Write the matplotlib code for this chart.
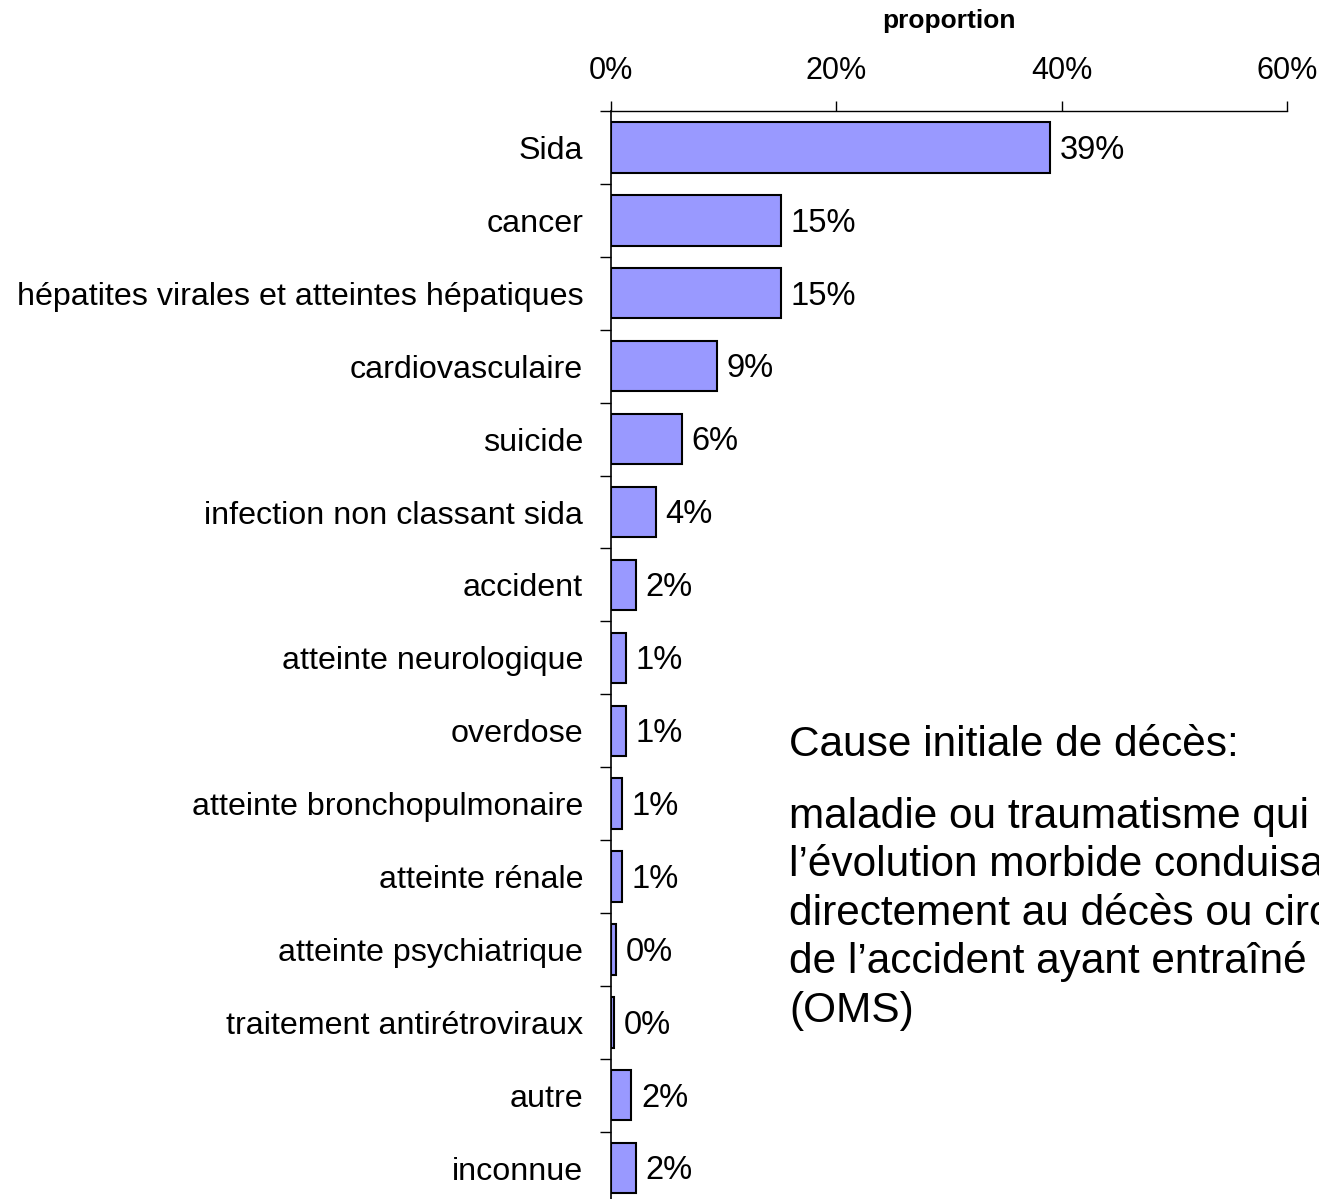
import matplotlib
matplotlib.use("Agg")
import matplotlib.pyplot as plt
from matplotlib.ticker import FixedLocator

categories = ["Sida", "cancer", "hépatites virales et atteintes hépatiques",
              "cardiovasculaire", "suicide", "infection non classant sida",
              "accident", "atteinte neurologique", "overdose",
              "atteinte bronchopulmonaire", "atteinte rénale",
              "atteinte psychiatrique", "traitement antirétroviraux",
              "autre", "inconnue"]
values = [39.0, 15.1, 15.1, 9.4, 6.3, 4.0, 2.2, 1.3, 1.3, 1.0, 1.0, 0.45, 0.25, 1.8, 2.2]
value_labels = ["39%", "15%", "15%", "9%", "6%", "4%", "2%", "1%", "1%",
                "1%", "1%", "0%", "0%", "2%", "2%"]
xticks = [0, 20, 40, 60]
xtick_labels = ["0%", "20%", "40%", "60%"]
note_title = "Cause initiale de décès:"
note_lines = ["maladie ou traumatisme qui a déclenché",
              "l\u2019évolution morbide conduisant",
              "directement au décès ou circonstances",
              "de l\u2019accident ayant entraîné la mort",
              "(OMS)"]

plt.rcParams['font.family'] = ['Liberation Sans', 'DejaVu Sans']

fig = plt.figure(figsize=(13.19, 11.99), dpi=100)
ax = fig.add_axes([0.4632, -0.0047, 0.5125, 0.9121])

y = list(range(len(categories)))
ax.barh(y, values, height=0.69, color="#9999FF", edgecolor="black", linewidth=1.5)
ax.set_ylim(len(categories) - 0.5, -0.5)
ax.set_xlim(0, 60)

for yi, v, lab in zip(y, values, value_labels):
    ax.annotate(lab, (v, yi), xytext=(7, -2), textcoords="offset points",
                va="center", ha="left", fontsize=23.5)

ax.xaxis.tick_top()
ax.xaxis.set_label_position("top")
ax.set_xticks(xticks)
ax.set_xticklabels(xtick_labels, fontsize=22)
ax.tick_params(axis="x", which="major", direction="out", length=7, width=1, pad=11)
ax.set_xlabel("proportion", fontsize=19, fontweight="bold", labelpad=20)

ax.set_yticks(y)
ax.set_yticklabels(categories, fontsize=23.2)
ax.tick_params(axis="y", which="major", length=0, pad=20)
ax.yaxis.set_minor_locator(FixedLocator([i - 0.5 for i in range(len(categories) + 1)]))
ax.tick_params(axis="y", which="minor", direction="out", length=8, width=1)

for s in ["right", "bottom"]:
    ax.spines[s].set_visible(False)
ax.spines["top"].set_linewidth(1)
ax.spines["left"].set_linewidth(1.2)

fs_note = 30.5
fig.text(789 / 1319, 1 - 756 / 1199, note_title, fontsize=fs_note, va="baseline", ha="left")
for i, line in enumerate(note_lines):
    fig.text(789 / 1319, 1 - (828 + 48.5 * i) / 1199, line, fontsize=fs_note,
             va="baseline", ha="left")

fig.savefig("out.png", dpi=100)
